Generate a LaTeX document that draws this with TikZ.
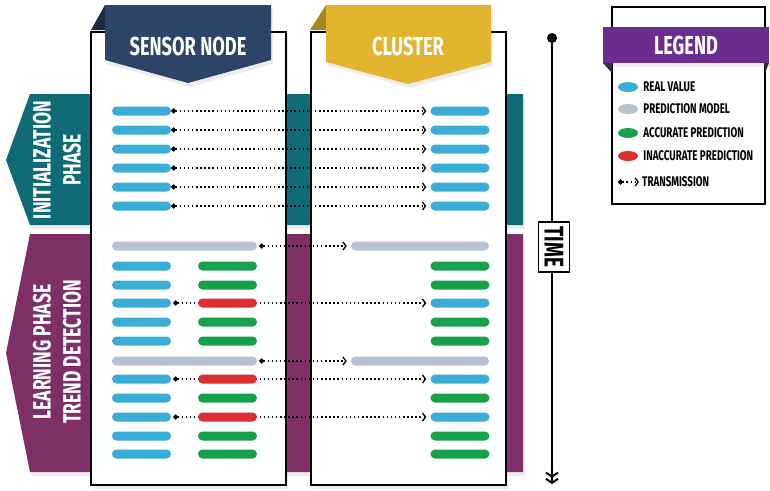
\documentclass[tikz,border=0pt]{standalone}
\usepackage{fontspec}
\newfontfamily\condfont{Fira Sans}[FakeStretch=0.7]
\usetikzlibrary{arrows.meta, positioning, shapes.geometric, shadows}

\definecolor{navy}{HTML}{2B4468}
\definecolor{navydark}{HTML}{1A2A47}
\definecolor{gold}{HTML}{E3B52F}
\definecolor{golddark}{HTML}{A7851F}
\definecolor{initteal}{HTML}{106B76}
\definecolor{plum}{HTML}{7E2F66}
\definecolor{legendpurple}{HTML}{6A2D8F}
\definecolor{realblue}{HTML}{3AADD7}
\definecolor{predgray}{HTML}{B8C2D2}
\definecolor{accgreen}{HTML}{18A14C}
\definecolor{inaccred}{HTML}{DD2F2F}

\begin{document}
\begin{tikzpicture}[
    x=1pt, y=-1pt,
    bar/.style={rectangle, rounded corners=4.5pt, minimum width=59pt, minimum height=9pt, inner sep=0pt},
    trans/.style={{Circle[length=5pt, width=5pt]}-{Straight Barb[length=3pt,width=8pt]}, line width=1.3pt, dash pattern=on 1.5pt off 2.6pt, shorten <=0pt, shorten >=4pt},
    column/.style={draw=black, fill=white, line width=2.5pt},
    title/.style={font=\condfont\bfseries\fontsize{26}{28}\selectfont, text=white},
    phase/.style={font=\condfont\bfseries\fontsize{25}{30}\selectfont, text=white, rotate=90, align=center},
    key/.style={font=\condfont\bfseries\fontsize{14}{15}\selectfont, inner sep=0pt},
    dot/.style={ellipse, minimum width=20pt, minimum height=10pt, inner sep=0pt},
    soft/.style={drop shadow={opacity=0.14, shadow xshift=2pt, shadow yshift=-4pt}}
]
\useasboundingbox (0,0) rectangle (770,490);

% phase bands behind the columns
\fill[initteal, soft] (30,94) -- (523,94) -- (523,225) -- (30,225) -- (6,160) -- cycle;
\fill[plum, soft] (30,234) -- (523,234) -- (523,472) -- (30,472) -- (6,353) -- cycle;
\node[phase] (init) at (57,160) {INITIALIZATION\\PHASE};
\node[phase] (learn) at (57,352) {LEARNING PHASE\\TREND DETECTION};

% the two columns
\draw[column, soft] (91,32) rectangle (286,485);
\draw[column, soft] (311,32) rectangle (506,485);

% column banners
\fill[navydark] (91,30) -- (105,5) -- (105,30) -- cycle;
\fill[navy, soft] (105,5) -- (271,5) -- (271,60) -- (188,83) -- (105,60) -- cycle;
\node[title] (sensor) at (188,46) {SENSOR NODE};
\fill[golddark] (310,30) -- (326,5) -- (326,30) -- cycle;
\fill[gold, soft] (326,5) -- (491,5) -- (491,62) -- (408,84) -- (326,62) -- cycle;
\node[title] (cluster) at (408,46) {CLUSTER};

% initialization: every value is sent
\foreach \y [count=\i] in {111,130,149,168,187,206} {
  \node[bar, fill=realblue] (s\i) at (141.5,\y) {};
  \node[bar, fill=realblue] (c\i) at (460,\y) {};
  \draw[trans] (s\i) -- (c\i);
}

% learning: models and checked predictions
\node[bar, fill=predgray, minimum width=145pt] (sm1) at (184.5,246) {};
\node[bar, fill=predgray, minimum width=138pt] (cm1) at (420,246) {};
\node[bar, fill=predgray, minimum width=145pt] (sm2) at (184.5,361) {};
\node[bar, fill=predgray, minimum width=138pt] (cm2) at (420,361) {};
\draw[trans, shorten <=2pt] (sm1) -- (cm1);
\draw[trans, shorten <=2pt] (sm2) -- (cm2);

\foreach \y/\cc in {266/accgreen, 285/accgreen, 303/realblue, 322/accgreen, 341/accgreen,
                    379/realblue, 398/accgreen, 417/realblue, 436/accgreen, 454/accgreen} {
  \node[bar, fill=realblue] (v\y) at (141.5,\y) {};
  \node[bar, fill=\cc] (k\y) at (460,\y) {};
}
\foreach \y in {303,379,417}
  \draw[trans, shorten <=2pt] (v\y) -- (k\y);
\foreach \y/\pc in {266/accgreen, 285/accgreen, 303/inaccred, 322/accgreen, 341/accgreen,
                    379/inaccred, 398/accgreen, 417/inaccred, 436/accgreen, 454/accgreen}
  \node[bar, fill=\pc] (p\y) at (227.5,\y) {};

% time axis
\node[circle, fill=black, inner sep=0pt, minimum size=10pt] (start) at (552,38) {};
\coordinate (end) at (552,484);
\draw[line width=2pt, -{Straight Barb[length=4pt,width=12pt] Straight Barb[length=4pt,width=12pt]}] (start) -- (end);
\node[draw, fill=white, line width=1.3pt, rotate=-90, inner sep=0pt, minimum width=50pt, minimum height=31pt,
      font=\condfont\bfseries\fontsize{27}{28}\selectfont] (time) at (554,247) {TIME};

% legend
\draw[line width=2.5pt, fill=white] (612,7) rectangle (765,204);
\fill[navydark] (603,63) -- (612,63) -- (612,73) -- cycle;
\fill[navydark] (769,63) -- (765,63) -- (765,73) -- cycle;
\fill[legendpurple, soft] (603,27) rectangle (769,63);
\node[title] (legend) at (686,45) {LEGEND};

\node[dot, fill=realblue] (l1) at (628,87) {};
\node[key, right=5pt of l1] {REAL VALUE};
\node[dot, fill=predgray] (l2) at (628,109) {};
\node[key, right=5pt of l2] {PREDICTION MODEL};
\node[dot, fill=accgreen] (l3) at (628,133) {};
\node[key, right=5pt of l3] {ACCURATE PREDICTION};
\node[dot, fill=inaccred] (l4) at (628,156) {};
\node[key, right=5pt of l4] {INACCURATE PREDICTION};
\coordinate (l5) at (618,182);
\coordinate (l5e) at (639,182);
\draw[trans, shorten <=0pt, shorten >=0pt] (l5) -- (l5e);
\node[key, right=3pt of l5e] {TRANSMISSION};
\end{tikzpicture}
\end{document}
